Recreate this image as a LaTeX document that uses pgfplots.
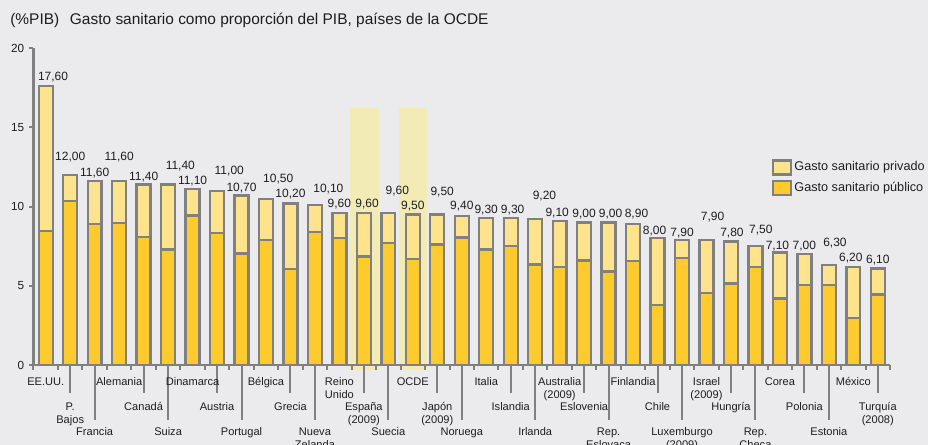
\documentclass[border=0pt]{standalone}
\usepackage{fontspec}
\setmainfont{Liberation Sans}
\usepackage{pgfplots}
\usepackage{pgfplotstable}
\pgfplotsset{compat=1.18}
\definecolor{bgcol}{HTML}{EBEBED}
\definecolor{pubcol}{HTML}{FECB2E}
\definecolor{privcol}{HTML}{FDE38B}
\definecolor{bordcol}{HTML}{808080}
\definecolor{bandcol}{HTML}{F3EBB6}
\definecolor{txtcol}{HTML}{1E1E1E}
\newcommand\valfont{\fontsize{9}{10}\selectfont}
\newcommand\catfont{\fontsize{8.3}{9.4}\selectfont}
\newcommand\catlab[4]{%
  \node[font=\catfont, text=txtcol, anchor=base, inner sep=0pt] at ([yshift=-#2]axis cs:#1,0) {#3};
  \node[font=\catfont, text=txtcol, anchor=base, inner sep=0pt] at ([yshift=-#2-9.4pt]axis cs:#1,0) {#4};}
\pgfplotstableread{
x pub tot ly dx lab
0 8.45 17.6 18.26 0.3 17,60
1 10.35 12.0 13.16 0 12,00
2 8.90 11.6 12.15 0 11,60
3 8.95 11.6 13.16 0 11,60
4 8.10 11.4 11.94 0 11,40
5 7.30 11.4 12.63 0.5 11,40
6 9.45 11.1 11.69 0 11,10
7 8.35 11.0 12.32 0.5 11,00
8 7.05 10.7 11.26 0 10,70
9 7.90 10.5 11.79 0.5 10,50
10 6.05 10.2 10.85 0 10,20
11 8.40 10.1 11.16 0.55 10,10
12 8.00 9.6 10.21 0 9,60
13 6.85 9.6 10.21 0.13 9,60
14 7.70 9.6 11.05 0.37 9,60
15 6.70 9.5 10.11 0 9,50
16 7.60 9.5 11.01 0.2 9,50
17 8.05 9.4 10.11 0 9,40
18 7.30 9.3 9.84 0 9,30
19 7.50 9.3 9.84 0.08 9,30
20 6.35 9.2 10.74 0.38 9,20
21 6.20 9.1 9.68 -0.1 9,10
22 6.60 9.0 9.58 0 9,00
23 5.90 9.0 9.58 0.08 9,00
24 6.55 8.9 9.58 0.14 8,90
25 3.80 8.0 8.53 -0.12 8,00
26 6.75 7.9 8.42 0 7,90
27 4.55 7.9 9.37 0.25 7,90
28 5.15 7.8 8.42 0.04 7,80
29 6.20 7.5 8.59 0.22 7,50
30 4.20 7.1 7.54 -0.1 7,10
31 5.05 7.0 7.54 0 7,00
32 5.05 6.3 7.73 0.25 6,30
33 2.95 6.2 6.84 -0.1 6,20
34 4.45 6.1 6.68 0 6,10
}\data
\begin{document}
\begin{tikzpicture}
\fill[bgcol] (-25.125pt,-60pt) rectangle (670.875pt,273.75pt);
\node[anchor=base west, inner sep=0pt, text=txtcol, font=\fontsize{11.6}{13}\selectfont] at (-17.6pt,255pt) {(\%PIB)\hspace{8pt}Gasto sanitario como proporción del PIB, países de la OCDE};
\begin{axis}[
  at={(0pt,0pt)}, anchor=south west,
  scale only axis, width=642.4pt, height=237.5pt,
  xmin=-0.5, xmax=34.5, ymin=0, ymax=20,
  axis x line*=bottom, axis y line*=left,
  axis line style={draw=bordcol, line width=1.6pt},
  tick style={draw=bordcol, line width=1.5pt},
  tick align=outside, major tick length=3.5pt,
  xtick={-0.5,0.5,...,34.5}, xticklabels={},
  ytick={0,5,10,15,20},
  /pgf/number format/assume math mode=true,
  yticklabel style={font=\fontsize{8.8}{10}\selectfont, text=txtcol},
  clip=false, axis on top,
  legend style={at={(0.862,0.592)}, anchor=west, draw=none, fill=none,
    inner sep=0pt, font=\fontsize{9.5}{11}\selectfont, text=txtcol,
    row sep=3pt, nodes={inner sep=1.5pt}},
  legend cell align=left,
  mybar/.style={ybar, bar width=0.57, bar shift=0pt, draw=bordcol, line width=1.75pt,
    legend image code/.code={\draw[##1] (0pt,-5.25pt) rectangle (13.5pt,5.25pt);}},
]
\fill[bandcol] (axis cs:12.45,-0.32) rectangle (axis cs:13.6,16.2);
\fill[bandcol] (axis cs:14.45,-0.32) rectangle (axis cs:15.58,16.2);
\addplot[mybar, fill=privcol] table[x=x, y=tot] {\data};
\addlegendentry{Gasto sanitario privado}
\addplot[mybar, fill=pubcol] table[x=x, y=pub] {\data};
\addlegendentry{Gasto sanitario público}
\addplot[draw=none, mark=none, forget plot, nodes near coords, point meta=explicit symbolic,
  every node near coord/.style={anchor=center, font=\valfont, text=txtcol, inner sep=0pt, text height=6.5pt, text depth=0pt}]
  table[x expr=\thisrow{x}+\thisrow{dx}, y=ly, meta=lab] {\data};
% leader lines
\pgfplotsinvokeforeach{1,4,7,10,13,16,19,22,25,28,31,34}{
  \draw[bordcol, line width=1.5pt] (axis cs:#1,0) -- ([yshift=-21pt]axis cs:#1,0);}
\pgfplotsinvokeforeach{2,5,8,11,14,17,20,23,26,29,32}{
  \draw[bordcol, line width=1.5pt] (axis cs:#1,0) -- ([yshift=-41.25pt]axis cs:#1,0);}
% tier 1
\catlab{0}{15.5pt}{EE.UU.}{}
\catlab{3}{15.5pt}{Alemania}{}
\catlab{6}{15.5pt}{Dinamarca}{}
\catlab{9}{15.5pt}{Bélgica}{}
\catlab{12}{15.5pt}{Reino}{Unido}
\catlab{15}{15.5pt}{OCDE}{}
\catlab{18}{15.5pt}{Italia}{}
\catlab{21}{15.5pt}{Australia}{(2009)}
\catlab{24}{15.5pt}{Finlandia}{}
\catlab{27}{15.5pt}{Israel}{(2009)}
\catlab{30}{15.5pt}{Corea}{}
\catlab{33}{15.5pt}{México}{}
% tier 2
\catlab{1}{34.3pt}{P.}{Bajos}
\catlab{4}{34.3pt}{Canadá}{}
\catlab{7}{34.3pt}{Austria}{}
\catlab{10}{34.3pt}{Grecia}{}
\catlab{13}{34.3pt}{España}{(2009)}
\catlab{16}{34.3pt}{Japón}{(2009)}
\catlab{19}{34.3pt}{Islandia}{}
\catlab{22}{34.3pt}{Eslovenia}{}
\catlab{25}{34.3pt}{Chile}{}
\catlab{28}{34.3pt}{Hungría}{}
\catlab{31}{34.3pt}{Polonia}{}
\catlab{34}{34.3pt}{Turquía}{(2008)}
% tier 3
\catlab{2}{53pt}{Francia}{}
\catlab{5}{53pt}{Suiza}{}
\catlab{8}{53pt}{Portugal}{}
\catlab{11}{53pt}{Nueva}{Zelanda}
\catlab{14}{53pt}{Suecia}{}
\catlab{17}{53pt}{Noruega}{}
\catlab{20}{53pt}{Irlanda}{}
\catlab{23}{53pt}{Rep.}{Eslovaca}
\catlab{26}{53pt}{Luxemburgo}{(2009)}
\catlab{29}{53pt}{Rep.}{Checa}
\catlab{32}{53pt}{Estonia}{}
\end{axis}
\pgfresetboundingbox
\path[use as bounding box] (-25.125pt,-60pt) rectangle (670.875pt,273.75pt);
\end{tikzpicture}
\end{document}
